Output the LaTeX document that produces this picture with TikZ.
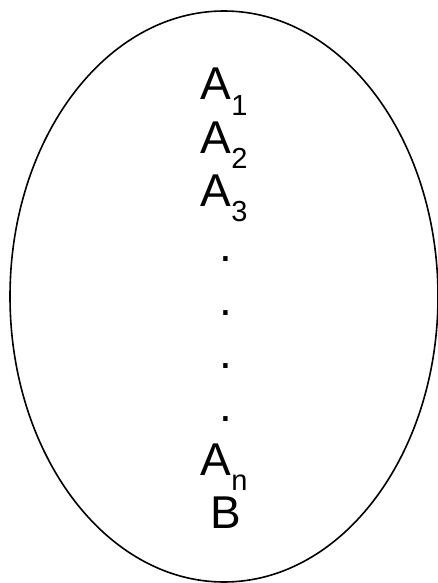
\documentclass[tikz,border=0pt]{standalone}
\usepackage{fontspec}
\setmainfont{Liberation Sans}
\newcommand{\lowidx}[1]{\raisebox{-15pt}{\fontsize{29}{30}\selectfont #1}}

\begin{document}
\begin{tikzpicture}[x=1pt,y=-1pt,
  lbl/.style={anchor=base,inner sep=0pt,font=\fontsize{46}{53}\selectfont}]
  \useasboundingbox (0,0) rectangle (438,583);
  \draw[black, line width=1.6pt] (224,296.5) ellipse (214 and 285.5);
  \node[lbl] (a1) at (224,100) {A\lowidx{1}};
  \node[lbl] (a2) at (224,153) {A\lowidx{2}};
  \node[lbl] (a3) at (224,206) {A\lowidx{3}};
  \node[lbl] (d1) at (226,261) {.};
  \node[lbl] (d2) at (226,315) {.};
  \node[lbl] (d3) at (226,368) {.};
  \node[lbl] (d4) at (226,421) {.};
  \node[lbl] (an) at (224,475) {A\lowidx{n}};
  \node[lbl] (b) at (226,528) {B};
\end{tikzpicture}
\end{document}
